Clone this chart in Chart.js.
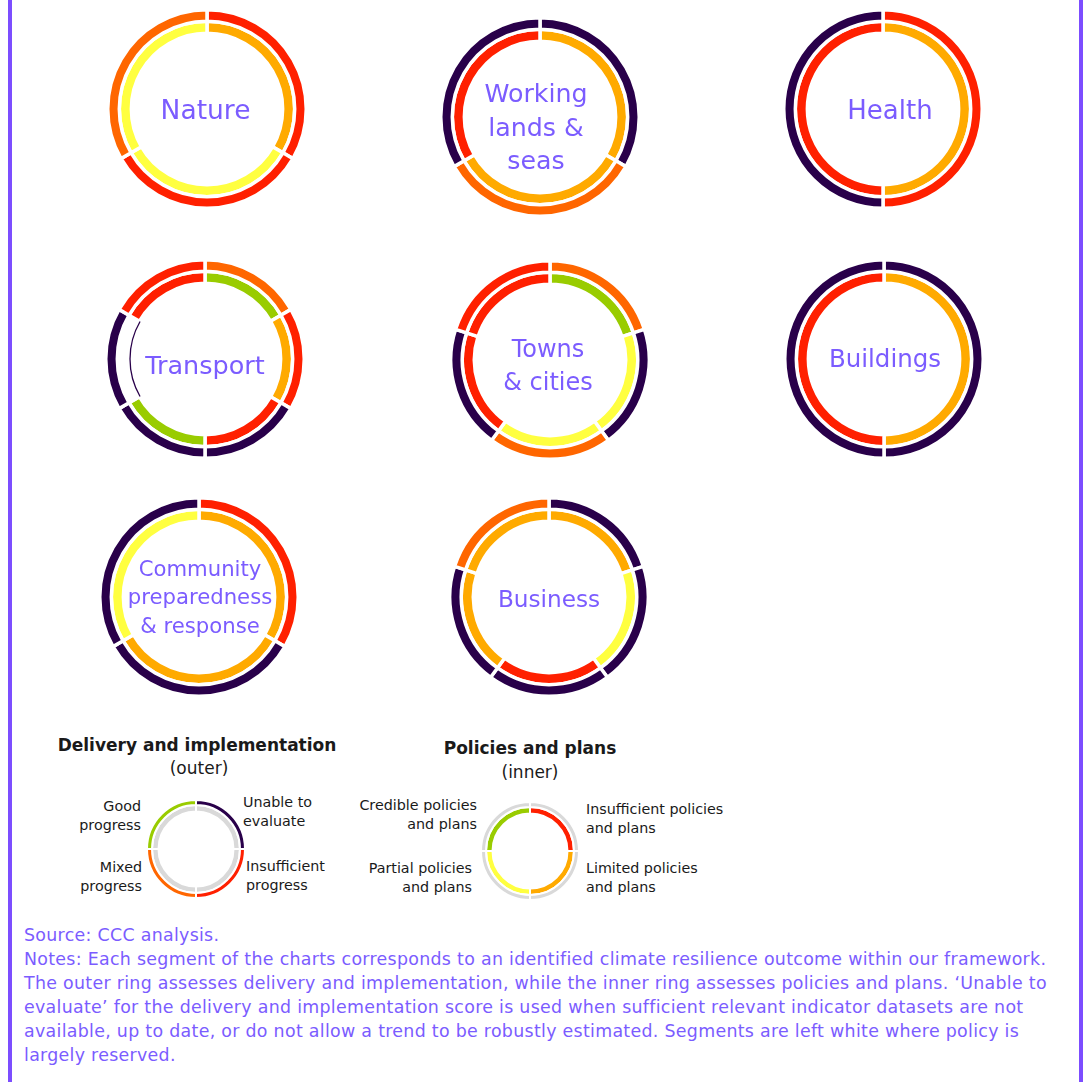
<!DOCTYPE html>
<html>
<head>
<meta charset="utf-8">
<script src="https://cdn.jsdelivr.net/npm/chart.js@4.4.0/dist/chart.umd.min.js"></script>
<style>
  html, body { margin: 0; padding: 0; background: #fff; }
  #page { position: relative; width: 1089px; height: 1082px; overflow: hidden; font-family: 'DejaVu Sans', sans-serif; }
  .bar { position: absolute; top: 0; width: 4px; height: 1082px; background: #7c4dff; }
  canvas { position: absolute; }
  .t { position: absolute; white-space: nowrap; color: #1a1a1a; }
  .key { font-size: 14.3px; line-height: 19px; }
  .head { font-size: 17px; line-height: 22px; text-align: center; width: 400px; }
  #notes { position: absolute; left: 24px; top: 923px; font-size: 17.4px; line-height: 24px; letter-spacing: 0.3px; color: #7b5cff; white-space: nowrap; }
</style>
</head>
<body>
<div id="page">
  <div class="bar" style="left:8px"></div>
  <div class="bar" style="left:1079px"></div>

  <div class="t head" style="left:-3px;top:734px;font-weight:bold">Delivery and implementation</div>
  <div class="t head" style="left:-1px;top:757px">(outer)</div>
  <div class="t key" style="right:948px;top:797px;text-align:right">Good<br>progress</div>
  <div class="t key" style="left:243px;top:793px">Unable to<br>evaluate</div>
  <div class="t key" style="right:947px;top:858px;text-align:right">Mixed<br>progress</div>
  <div class="t key" style="left:246px;top:857px">Insufficient<br>progress</div>

  <div class="t head" style="left:330px;top:737px;font-weight:bold">Policies and plans</div>
  <div class="t head" style="left:330px;top:761px">(inner)</div>
  <div class="t key" style="right:612px;top:796px;text-align:right">Credible policies<br>and plans</div>
  <div class="t key" style="left:586px;top:800px">Insufficient policies<br>and plans</div>
  <div class="t key" style="right:617px;top:859px;text-align:right">Partial policies<br>and plans</div>
  <div class="t key" style="left:586px;top:859px">Limited policies<br>and plans</div>

  <div id="notes"></div>
</div>
<script>
// --- DATA: segment scores, clockwise from 12 o'clock ---
const natureOuter = ['insufficient', 'insufficient', 'mixed'];
const natureInner = ['limited', 'partial', 'partial'];
const workingOuter = ['unable', 'mixed', 'unable'];
const workingInner = ['limited', 'limited', 'insufficient'];
const healthOuter = ['insufficient', 'unable'];
const healthInner = ['limited', 'insufficient'];
const transportOuter = ['mixed', 'insufficient', 'unable', 'unable', 'unable', 'insufficient'];
const transportInner = ['credible', 'limited', 'insufficient', 'credible', 'reserved', 'insufficient'];
const townsOuter = ['mixed', 'unable', 'mixed', 'unable', 'insufficient'];
const townsInner = ['credible', 'partial', 'partial', 'insufficient', 'insufficient'];
const buildingsOuter = ['unable', 'unable'];
const buildingsInner = ['limited', 'insufficient'];
const communityOuter = ['insufficient', 'unable', 'unable'];
const communityInner = ['limited', 'limited', 'partial'];
const businessOuter = ['unable', 'unable', 'unable', 'unable', 'mixed'];
const businessInner = ['limited', 'partial', 'insufficient', 'limited', 'limited'];

const natureLabel = ['Nature'];
const workingLabel = ['Working', 'lands &', 'seas'];
const healthLabel = ['Health'];
const transportLabel = ['Transport'];
const townsLabel = ['Towns', '& cities'];
const buildingsLabel = ['Buildings'];
const communityLabel = ['Community', 'preparedness', '& response'];
const businessLabel = ['Business'];

// legend keys, clockwise from 12 o'clock
const deliveryKey = ['unable', 'insufficient', 'mixed', 'good'];
const policyKey = ['insufficient', 'limited', 'partial', 'credible'];

const notesLines = [
  'Source: CCC analysis.',
  'Notes: Each segment of the charts corresponds to an identified climate resilience outcome within our framework.',
  'The outer ring assesses delivery and implementation, while the inner ring assesses policies and plans. \u2018Unable to',
  'evaluate\u2019 for the delivery and implementation score is used when sufficient relevant indicator datasets are not',
  'available, up to date, or do not allow a trend to be robustly estimated. Segments are left white where policy is',
  'largely reserved.'
];

// --- STYLES ---
const LABEL_COLOR = '#7b5cff';
const KEY_GREY = '#d9d9d9';
const outerColors = { good: '#99cc00', mixed: '#ff6600', insufficient: '#ff2000', unable: '#29004a' };
const innerColors = { credible: '#99cc00', partial: '#ffff40', limited: '#ffaa00', insufficient: '#ff2000', reserved: '#ffffff' };

// centre label plugin
const centerLabel = {
  id: 'centerLabel',
  afterDraw(chart, args, opts) {
    if (!opts.lines) return;
    const { ctx, chartArea } = chart;
    const x = (chartArea.left + chartArea.right) / 2 + (opts.dx || 0);
    const y = (chartArea.top + chartArea.bottom) / 2 + (opts.dy || 0) + 2;
    ctx.save();
    ctx.font = opts.size + 'px "DejaVu Sans"';
    ctx.fillStyle = LABEL_COLOR;
    ctx.textAlign = 'center';
    ctx.textBaseline = 'middle';
    opts.lines.forEach((line, i) => {
      ctx.fillText(line, x, y + (i - (opts.lines.length - 1) / 2) * opts.lineHeight);
    });
    ctx.restore();
  }
};

function makeCanvas(cx, cy, size) {
  const c = document.createElement('canvas');
  c.width = size; c.height = size;
  c.style.left = (cx - size / 2) + 'px';
  c.style.top = (cy - size / 2) + 'px';
  c.style.width = size + 'px'; c.style.height = size + 'px';
  document.getElementById('page').appendChild(c);
  return c;
}

function outcomeChart(cx, cy, outer, inner, label, labelOpts) {
  const canvas = makeCanvas(cx, cy, 214);
  new Chart(canvas, {
    type: 'doughnut',
    data: {
      labels: outer.map((s, i) => 'Outcome ' + (i + 1)),
      datasets: [
        { data: outer.map(() => 1), backgroundColor: outer.map(s => outerColors[s]), borderColor: '#fff', borderWidth: 3.5, weight: 11.5 },
        { data: inner.map(() => 1), backgroundColor: inner.map(s => innerColors[s]), borderColor: '#fff', borderWidth: 3.5, weight: 12 },
        // thin edge drawn on reserved (white) inner segments
        { data: inner.map(() => 1), backgroundColor: inner.map(s => s === 'reserved' ? outerColors.unable : 'rgba(0,0,0,0)'), borderWidth: 0, weight: 1.3, order: -1 }
      ]
    },
    options: {
      responsive: false, animation: false,
      radius: 99.25, cutout: '74.9%',
      plugins: { legend: { display: false }, tooltip: { enabled: false },
        centerLabel: Object.assign({ lines: label }, labelOpts) }
    },
    plugins: [centerLabel]
  });
}

function keyChart(cx, cy, outerFill, innerFill) {
  const canvas = makeCanvas(cx, cy, 110);
  new Chart(canvas, {
    type: 'doughnut',
    data: {
      labels: ['a', 'b', 'c', 'd'],
      datasets: [
        { data: [1, 1, 1, 1], backgroundColor: outerFill, borderColor: '#fff', borderWidth: 2, weight: 5 },
        { data: [1, 1, 1, 1], backgroundColor: innerFill, borderColor: '#fff', borderWidth: 2, weight: 6.5 }
      ]
    },
    options: {
      responsive: false, animation: false,
      radius: 49, cutout: '76.5%',
      plugins: { legend: { display: false }, tooltip: { enabled: false } }
    }
  });
}

outcomeChart(206.5, 108.5, natureOuter, natureInner, natureLabel, { size: 26.5, lineHeight: 33, dx: -1.5, dy: 1.5 });
outcomeChart(540, 117, workingOuter, workingInner, workingLabel, { size: 25.3, lineHeight: 33.5, dx: -4, dy: 10 });
outcomeChart(883, 109, healthOuter, healthInner, healthLabel, { size: 26, lineHeight: 33, dx: 7, dy: 1 });
outcomeChart(205, 359, transportOuter, transportInner, transportLabel, { size: 25.5, lineHeight: 33, dx: 0, dy: 6 });
outcomeChart(550, 359.5, townsOuter, townsInner, townsLabel, { size: 24, lineHeight: 33, dx: -2, dy: 5 });
outcomeChart(883.5, 359, buildingsOuter, buildingsInner, buildingsLabel, { size: 24.5, lineHeight: 33, dx: 1, dy: 0 });
outcomeChart(199, 597, communityOuter, communityInner, communityLabel, { size: 21.2, lineHeight: 28.5, dx: 1, dy: -0.5 });
outcomeChart(549, 597, businessOuter, businessInner, businessLabel, { size: 23.2, lineHeight: 33, dx: 0, dy: 2 });

keyChart(195.5, 849, deliveryKey.map(s => outerColors[s]), deliveryKey.map(() => KEY_GREY));
keyChart(530, 850.5, policyKey.map(() => KEY_GREY), policyKey.map(s => innerColors[s]));

document.getElementById('notes').innerHTML = notesLines.join('<br>');
</script>
</body>
</html>
